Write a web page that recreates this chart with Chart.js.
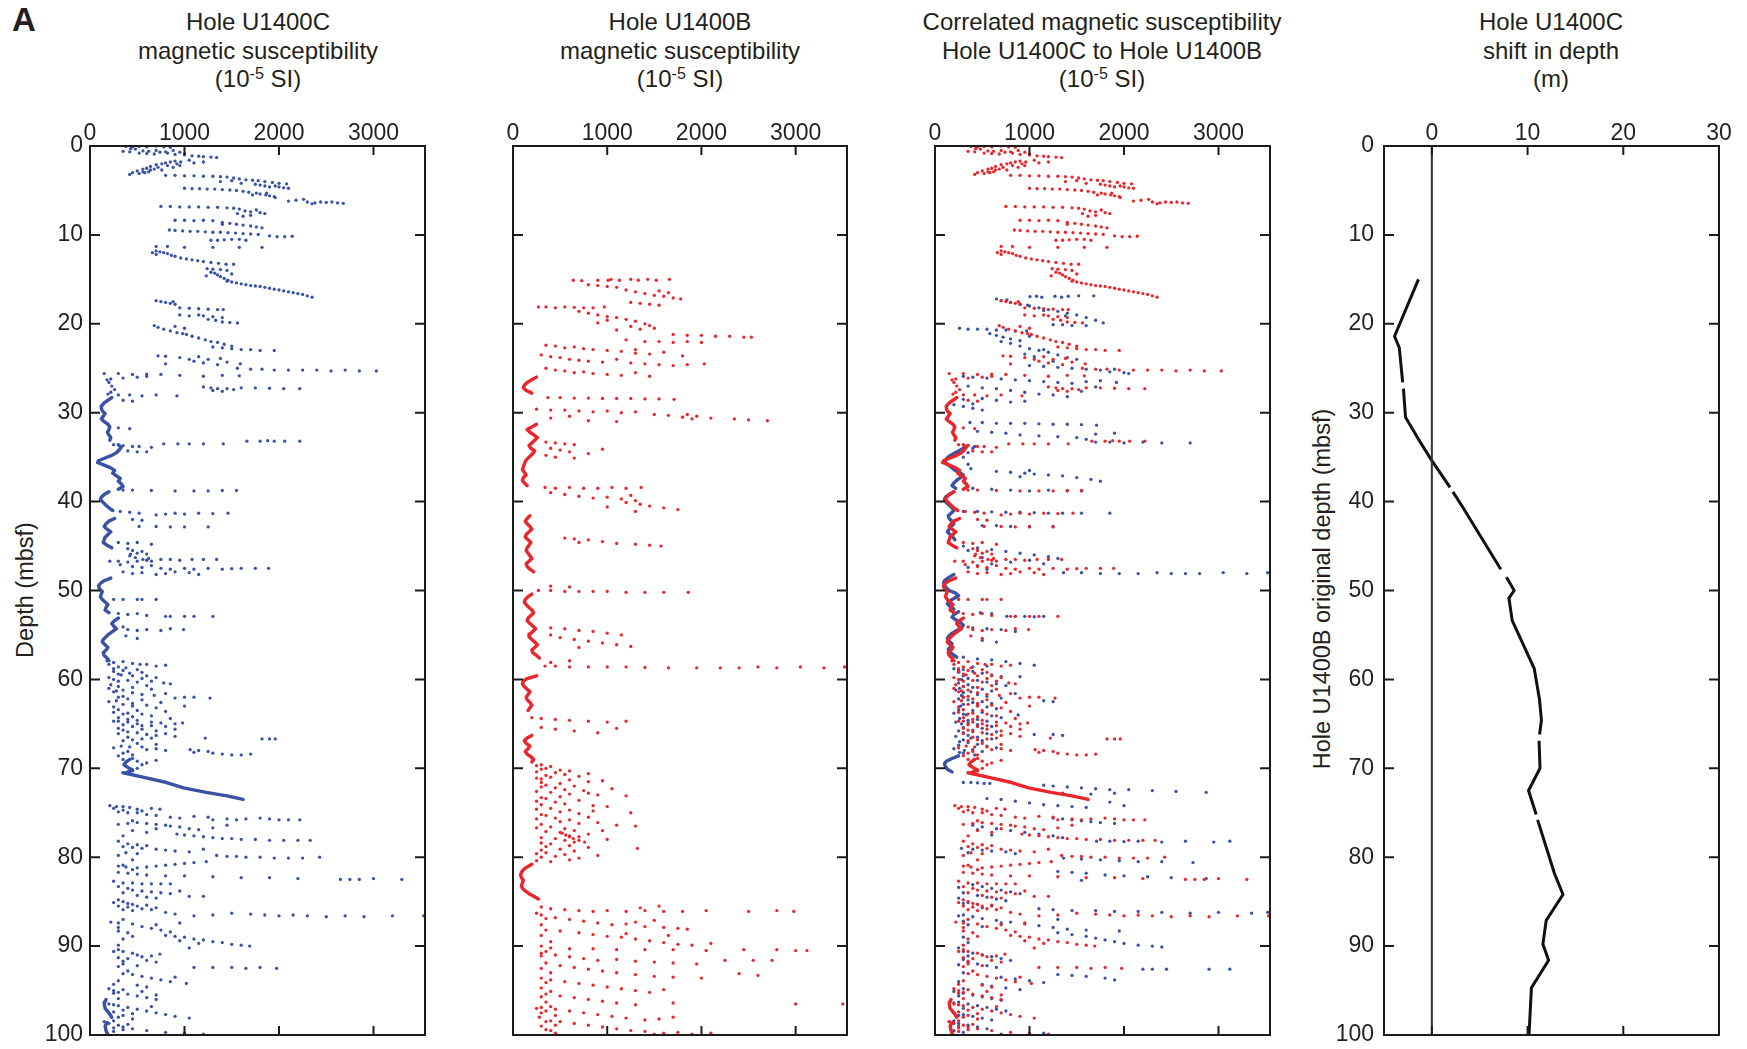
<!DOCTYPE html>
<html>
<head>
<meta charset="utf-8">
<script src="https://cdn.jsdelivr.net/npm/chart.js@4.4.1/dist/chart.umd.min.js"></script>
<style>
  body { margin: 0; background: #fff; width: 1747px; height: 1049px; position: relative; overflow: hidden;
         font-family: "Liberation Sans", Arial, sans-serif; color: #231f20; }
  canvas { position: absolute; }
  .title { position: absolute; width: 560px; text-align: center; font-size: 24px; line-height: 28.5px; top: 8px; }
  .title sup { font-size: 16px; vertical-align: 8px; line-height: 0; }
  .ylab { position: absolute; font-size: 23.5px; white-space: nowrap; transform: translate(-50%, -50%) rotate(-90deg); }
  #tagA { position: absolute; left: 12px; top: 1px; font-size: 33px; font-weight: bold; }
</style>
</head>
<body>
<div id="tagA">A</div>
<div class="title" style="left:-22px">Hole U1400C<br>magnetic susceptibility<br>(10<sup>-5</sup> SI)</div>
<div class="title" style="left:400px">Hole U1400B<br>magnetic susceptibility<br>(10<sup>-5</sup> SI)</div>
<div class="title" style="left:822px">Correlated magnetic susceptibility<br>Hole U1400C to Hole U1400B<br>(10<sup>-5</sup> SI)</div>
<div class="title" style="left:1271px">Hole U1400C<br>shift in depth<br>(m)</div>
<div class="ylab" style="left:25px; top:590px">Depth (mbsf)</div>
<div class="ylab" style="left:1322px; top:589px">Hole U1400B original depth (mbsf)</div>

<canvas id="p1"></canvas>
<canvas id="p2"></canvas>
<canvas id="p3"></canvas>
<canvas id="p4"></canvas>

<script>
// tick values
const depthTicks = [0, 10, 20, 30, 40, 50, 60, 70, 80, 90, 100];
const msTicks = [0, 1000, 2000, 3000];
const shiftTicks = [0, 10, 20, 30];

// Hole U1400C magnetic susceptibility, [depth mbsf, 10^-5 SI]
const holeC = [
  [0.05,380],[0.1,450],[0.05,520],[0.1,600],[0.0,700],[0.1,780],[0.15,850],[0.3,430],[0.35,480],[0.6,350],
  [0.65,420],[0.55,560],[0.6,620],[0.5,700],[0.7,740],[0.65,800],[0.5,880],[0.8,520],[0.85,600],[0.9,680],
  [0.8,820],[0.95,900],[0.7,950],[1.0,1000],[1.1,1080],[1.15,1150],[1.2,1200],[1.25,1280],[1.3,1340],[0.9,1000],
  [1.7,900],[1.8,850],[1.9,800],[1.8,960],[1.6,1050],[2.0,760],[2.1,700],[2.2,820],[2.3,640],[2.4,720],
  [2.5,600],[2.6,680],[2.6,560],[2.7,760],[2.8,500],[2.9,620],[3.0,450],[3.1,520],[3.2,420],[2.4,880],
  [2.2,950],[2.9,560],[2.7,640],[3.0,580],[2.0,920],[1.9,1100],[1.8,1200],
  [3.3,800],[3.3,900],[3.35,1000],[3.35,1100],[3.4,1200],[3.4,1300],[3.45,1380],[3.5,1450],[3.6,1520],[3.7,1580],
  [3.8,1650],[3.85,1720],[3.9,1780],[4.0,1850],[4.1,1930],[4.2,2000],[4.25,2080],[4.3,1750],[4.4,1800],[4.5,1850],
  [4.6,1900],[4.5,1960],[4.6,2000],[4.2,1600],[3.9,1500],[4.0,1380],
  [4.75,1000],[4.8,1080],[4.8,1160],[4.85,1240],[4.85,1320],[4.9,1400],[4.95,1480],[4.7,2050],[4.75,2100],[5.0,1550],
  [5.1,1620],[5.2,1680],[5.3,1760],[5.4,1800],[5.5,1860],[5.6,1900],[5.7,1950],[5.5,1720],[5.3,1870],[5.8,1960],
  [6.2,2100],[6.1,2180],[6.0,2260],[6.3,2300],[6.4,2380],[6.3,2440],[6.35,2500],[6.3,2560],[6.4,2620],[6.45,2680],[6.5,2350],
  [6.8,750],[6.8,850],[6.85,950],[6.85,1050],[6.85,1150],[6.9,1250],[6.9,1350],[6.95,1450],[7.0,1520],[7.1,1580],
  [7.3,1640],[7.4,1700],[7.2,1760],[7.5,1800],[7.6,1850],[7.8,1700],[7.9,1620],[7.6,1560],
  [8.35,900],[8.35,1000],[8.4,1100],[8.35,1200],[8.4,1300],[8.6,1400],[8.7,1480],[8.8,1550],[8.9,1620],[9.0,1700],
  [9.1,1760],[9.2,1820],[8.8,1400],
  [9.45,840],[9.5,900],[9.55,980],[9.6,1060],[9.6,1140],[9.65,1220],[9.7,1300],[9.7,1380],[9.75,1460],[9.8,1540],
  [9.85,1620],[9.9,1700],[9.95,1780],[10.1,1900],[10.2,1980],[10.2,2060],[10.15,2140],
  [10.6,1280],[10.6,1350],[10.55,1420],[10.5,1500],[10.5,1580],[10.6,1650],[11.3,700],[11.3,820],[11.4,1000],[11.4,1300],
  [11.4,1580],[11.4,1820],
  [11.8,700],[11.9,740],[12.0,780],[12.1,820],[12.3,860],[12.4,900],[12.6,960],[12.7,1020],[12.8,1080],[12.9,1140],
  [13.0,1200],[13.1,1280],[13.2,1360],[13.3,1440],[13.3,1520],[12.2,700],[12.0,660],
  [13.8,1240],[13.85,1300],[13.9,1380],[14.0,1450],[14.2,1280],[14.3,1320],[14.5,1350],[14.7,1380],[14.9,1420],[15.1,1460],
  [14.4,1500],[14.6,1230],
  [15.2,1450],[15.3,1500],[15.4,1550],[15.5,1600],[15.6,1650],[15.7,1700],[15.75,1750],[15.8,1800],[15.9,1850],[16.0,1900],
  [16.1,1950],[16.2,2000],[16.3,2050],[16.4,2100],[16.5,2150],[16.6,2200],[16.7,2250],[16.85,2300],[17.0,2350],
  [17.4,700],[17.5,750],[17.6,800],[17.7,850],[17.8,900],[17.5,880],[18.2,950],[18.25,1050],[18.3,1150],[18.35,1250],
  [18.4,1350],[18.4,1410],
  [19.0,950],[19.1,1050],[19.0,1150],[19.1,1200],[19.2,1300],[19.3,1400],[19.5,1250],[19.6,1330],[19.8,1400],[19.85,1480],[19.9,1560],
  [20.2,680],[20.4,720],[20.6,780],[20.8,850],[21.0,920],[21.1,980],[21.2,1020],[21.4,1080],[21.6,1150],[21.8,1220],
  [22.0,1280],[22.1,1350],[22.3,1420],[22.5,1500],[20.3,900],[20.5,1000],
  [22.6,1300],[22.7,1400],[22.8,1500],[22.9,1600],[22.9,1700],[23.0,1800],[23.0,1950],
  [23.6,720],[23.65,800],[23.8,950],[24.0,1050],[24.2,1100],[24.4,1200],[24.6,1350],[23.7,1150],[24.0,1250],[24.3,1450],
  [24.5,1590],[23.9,1380],[24.5,800],
  [25.0,1560],[25.1,1700],[25.1,1820],[25.2,1950],[25.2,2100],[25.2,2250],[25.2,2400],[25.3,2550],[25.2,2700],[25.3,2850],[25.3,3030],
  [25.6,150],[25.6,300],[25.7,450],[25.65,600],[25.7,750],[25.8,950],[26.2,220],[26.1,350],[26.0,500],[25.9,600],
  [26.3,180],[25.9,1200],[25.8,1400],[25.85,1580],[26.6,200],[27.0,230],[27.4,260],[27.7,220],
  [27.1,1200],[27.2,1280],[27.3,1350],[27.3,1450],[27.4,1520],[27.2,1600],[27.2,1750],[27.25,1900],[27.3,2050],[27.3,2220],
  [27.5,1300],[27.6,1400],
  [27.9,190],[28.0,300],[28.0,420],[28.1,550],[28.0,700],[28.1,920],[28.6,350],[28.7,450],[31.7,300],[31.8,420],
  [33.2,1660],[33.2,1800],[33.15,1880],[33.2,1950],[33.2,2060],[33.2,2220],[33.5,780],[33.5,930],[33.5,1050],[33.5,1200],[33.5,1410],
  [33.6,250],[33.7,350],[33.8,450],[33.8,520],[33.9,650],[34.2,300],[34.3,400],[34.4,500],[34.4,600],
  [38.7,350],[38.7,450],[38.75,650],[38.8,900],[38.8,1100],[38.8,1250],[38.75,1400],[38.75,1550],
  [41.1,320],[41.2,420],[41.3,520],[41.5,700],[41.4,800],[41.3,900],[41.4,1000],[41.3,1150],[41.35,1300],[41.3,1460],
  [42.0,450],[42.1,550],[42.8,520],[42.8,700],[42.85,850],[42.85,1000],[42.85,1250],
  [44.6,300],[44.7,400],[44.6,500],[44.8,650],
  [45.3,400],[45.5,450],[45.6,550],[45.8,500],[45.9,600],[46.1,420],[46.3,480],[46.5,560],[46.7,650],[46.4,620],[45.9,430],
  [46.7,210],[46.7,300],[46.8,400],[46.7,500],[46.6,600],[46.5,750],[46.5,850],[46.6,950],[46.5,1080],[46.5,1200],[46.5,1340],
  [47.1,320],[47.3,450],[47.4,550],[47.2,650],[47.5,750],[47.6,850],[47.5,1000],[47.6,1100],[47.5,1250],[47.6,1400],
  [47.55,1500],[47.5,1600],[47.5,1750],[47.5,1890],[47.9,350],[48.1,450],[48.0,550],[48.2,700],[48.1,800],[47.9,900],
  [48.0,1050],[48.2,1150],
  [51.0,250],[51.0,350],[51.0,500],[51.0,550],[51.0,700],
  [52.6,300],[52.7,400],[52.6,500],[52.8,600],[52.9,800],[52.9,850],[52.9,1000],[52.9,1100],[52.9,1300],
  [54.1,350],[54.4,400],[54.5,500],[54.4,600],[54.5,750],[54.3,850],[54.4,990],[55.1,380],[55.4,500],
  [57.9,180],[58.1,250],[58.0,350],[58.2,450],[58.3,530],[58.3,600],[58.5,700],[58.4,800],[58.6,300],[58.8,250],
  [59.0,350],[59.3,420],[59.5,330],[59.2,550],[59.6,600],[59.8,700],[60.0,250],[60.1,400],[60.3,500],[60.2,650],
  [60.4,780],[60.5,850],[59.6,450],
  [60.8,300],[61.0,200],[61.2,350],[61.4,250],[61.5,450],[61.7,550],[61.8,680],[61.6,800],[62.0,300],[62.2,400],
  [62.3,550],[62.1,900],[62.0,1000],[62.0,1100],[62.1,1270],[62.5,200],[62.8,350],[63.0,450],[62.9,600],[63.2,700],
  [63.0,1000],[63.4,300],[63.7,250],[63.8,400],[63.9,550],[64.1,650],[64.3,300],[64.5,400],[64.6,500],[64.8,650],
  [64.9,750],[65.1,350],[65.3,450],[65.5,300],[65.6,550],[65.8,700],[65.6,900],
  [58.3,200],[58.7,380],[59.1,250],[59.4,300],[59.8,200],[60.2,300],[60.6,220],[60.9,450],[61.3,280],[61.9,350],
  [62.4,280],[62.7,450],[63.1,250],[63.5,500],[63.9,350],[64.2,450],[64.7,250],[65.2,550],[65.7,350],[66.1,300],
  [66.5,400],[66.9,350],[67.2,500],[67.7,250],[68.1,400],[68.6,300],[68.9,450],[59.9,550],[61.1,650],[62.6,750],
  [63.6,800],[64.4,850],[60.7,600],[58.9,500],[67.3,700],
  [64.7,300],[64.8,400],[65.0,500],[65.2,650],[65.3,800],[65.0,900],[64.9,980],
  [65.9,400],[66.0,500],[66.2,600],[66.3,700],[66.1,800],[66.4,900],[66.7,550],[66.6,650],[66.8,450],[66.6,1220],
  [66.7,1820],[66.7,1900],[66.7,1960],
  [67.5,330],[67.6,420],[67.6,550],[67.8,700],[68.0,800],[67.9,600],[68.3,350],[68.5,450],[67.9,1060],[68.0,1150],
  [68.1,1250],[68.3,1300],[68.2,1100],[68.4,1400],[68.5,1500],[68.5,1600],[68.4,1700],
  [69.0,350],[69.2,500],[69.4,600],[69.6,550],[70.0,500],[70.3,450],[69.1,700],
  [74.2,210],[74.3,280],[74.3,350],[74.4,420],[74.6,500],[74.8,550],[74.5,650],[74.6,740],[74.9,300],[75.0,400],
  [75.2,600],[75.3,700],[75.5,850],[75.6,950],[75.4,1100],[75.5,1250],[75.8,1300],[75.7,1450],[75.8,1550],[75.7,1650],
  [75.6,1800],[75.7,1900],[75.8,2000],[75.8,2100],[75.8,2220],
  [76.1,500],[76.2,600],[76.3,700],[76.4,800],[76.5,850],[76.6,950],[76.8,1050],[76.9,1150],[76.7,1300],[76.4,1450],
  [76.2,400],[76.8,700],
  [77.4,920],[77.5,1000],[77.6,1100],[77.7,1200],[77.8,1300],[77.9,1400],[77.9,1500],[78.0,1600],[78.0,1750],[78.1,1900],
  [78.1,2050],[78.1,2200],[78.1,2330],
  [78.5,400],[78.6,500],[78.7,600],[78.9,450],[79.0,550],[79.1,700],[79.2,800],[79.3,900],[79.4,1050],[79.1,1200],
  [79.5,380],[79.6,500],
  [79.8,1340],[79.9,1450],[79.9,1550],[80.0,1650],[80.0,1800],[80.1,1950],[80.1,2100],[80.1,2250],[80.0,2430],
  [80.5,1230],[80.6,1100],[80.7,1000],[80.8,900],[80.9,800],[81.0,700],[81.1,600],[81.2,500],[81.1,380],[81.0,300],
  [81.7,300],[81.8,400],[81.9,500],[82.0,600],[82.1,800],[82.1,1000],[82.2,1300],[82.3,1600],[82.3,1900],[82.4,2200],
  [82.5,2650],[82.5,2750],[82.5,2850],[82.4,3000],[82.5,3300],
  [82.9,350],[82.9,450],[83.0,550],[83.0,650],[83.0,750],[83.0,850],
  [83.7,450],[83.8,550],[83.9,650],[84.0,750],[84.1,850],[83.8,950],[84.3,500],[84.5,600],[84.6,700],[84.4,1050],[84.4,1200],
  [85.0,350],[85.2,400],[85.3,450],[85.5,500],[85.6,400],[85.8,550],[85.9,650],[85.4,600],[85.7,700],
  [86.2,800],[86.4,900],[86.6,1100],[86.5,1300],[86.3,1500],[86.4,1700],[86.5,1850],[86.6,2000],[86.5,2150],[86.6,2300],
  [86.7,2500],[86.6,2700],[86.7,2900],[86.6,3200],[86.6,3530],
  [87.3,220],[87.4,300],[87.5,450],[87.8,550],[88.0,650],[88.2,750],[88.4,850],[87.6,700],[87.4,950],[88.5,400],
  [88.8,800],[88.9,900],[89.0,1000],[89.2,1100],[89.3,1200],[89.5,1300],[89.6,1400],[89.8,1500],[89.9,1600],[90.0,1690],
  [89.4,950],[89.7,1150],[90.2,1050],
  [90.4,300],[90.6,350],[90.8,450],[91.0,500],[91.2,550],[91.4,400],[91.6,600],[91.8,700],[92.0,350],[92.2,500],
  [91.1,650],[90.9,740],[92.4,1300],[92.4,1500],[92.5,1650],[92.4,1800],[92.5,1975],[92.4,1100],
  [93.2,450],[93.4,550],[93.6,650],[93.8,750],[94.0,850],[94.2,1020],[94.4,500],[94.6,600],[93.5,900],
  [94.8,200],[95.0,250],[95.2,300],[95.4,400],[95.6,500],[95.8,600],[96.0,700],[95.1,550],[95.5,700],
  [96.3,150],[96.5,200],[96.7,300],[96.9,400],[97.1,500],[97.3,600],[97.5,700],[97.7,800],[97.9,900],[98.1,1050],
  [96.8,650],[97.4,250],[97.8,350],[98.2,450],
  [98.5,150],[98.7,200],[98.9,300],[99.1,350],[99.3,450],[99.5,600],[99.7,800],[99.8,1000],[99.9,1200],[99.6,250],[99.9,180],
  [74.5,250],[74.7,350],[75.0,500],[75.9,450],[76.3,300],[77.0,450],[77.2,600],[77.6,350],[78.2,300],[78.8,350],
  [79.8,300],[80.3,450],[80.9,350],[81.4,450],[82.7,250],[83.3,300],[83.5,400],[84.0,350],[84.8,300],[85.1,250],
  [85.5,300],[85.9,350],[86.0,450],[87.0,350],[87.9,300],[88.3,300],[88.9,450],[89.2,350],[89.9,300],[90.6,250],
  [91.3,300],[91.7,350],[92.3,300],[92.8,400],[93.1,350],[93.9,300],[94.3,250],[94.9,350],[95.3,250],[95.9,300],
  [96.6,250],[97.2,350],[97.6,450],[98.0,300],[98.4,250],[98.8,400],[99.2,250],[99.4,350]
];

// dense low-value runs of Hole U1400C (drawn as a connected trace, null = core break)
const holeCTrace = [
  [28.3,230],[28.6,190],[28.9,150],[29.2,125],[29.5,120],[29.8,130],[30.1,160],[30.4,140],[30.7,120],[31.0,150],
  [31.3,190],[31.6,210],[31.9,200],[32.2,185],[32.5,200],[32.8,220],[33.1,210], null,
  [33.6,300],[33.9,330],[34.2,310],[34.5,280],[34.8,230],[35.1,160],[35.4,90],[35.6,80],[35.9,150],[36.2,220],
  [36.5,260],[36.8,240],[37.1,280],[37.4,320],[37.7,300],[38.0,330],[38.3,350],[38.6,300], null,
  [38.9,200],[39.2,150],[39.5,120],[39.8,110],[40.1,140],[40.4,170],[40.7,200],[41.0,240], null,
  [41.9,260],[42.2,200],[42.5,170],[42.8,150],[43.1,180],[43.4,220],[43.7,190],[44.0,160],[44.3,150],[44.6,140],
  [44.9,180],[45.2,230], null,
  [48.6,220],[48.9,150],[49.2,110],[49.5,90],[49.8,100],[50.1,130],[50.4,120],[50.7,110],[51.0,130],[51.3,160],
  [51.6,190],[51.9,170],[52.2,160],[52.5,200], null,
  [53.1,300],[53.4,260],[53.7,230],[54.0,250],[54.3,280],[54.6,240],[54.9,200],[55.2,170],[55.5,140],[55.8,130],
  [56.1,160],[56.4,190],[56.7,170],[57.0,140],[57.3,150],[57.6,180],[57.9,200], null,
  [69.0,420],[69.3,380],[69.6,360],[69.9,400],[70.2,450],[70.5,380], null,
  [70.5,350],[71.0,560],[71.6,810],[72.2,990],[72.7,1230],[73.1,1450],[73.5,1620], null,
  [96.0,170],[96.5,150],[97.0,160],[97.5,200],[98.0,230], null,
  [98.6,180],[99.0,160],[99.5,170],[100,190]
];

// Hole U1400B magnetic susceptibility, [depth mbsf, 10^-5 SI]
const holeB = [
  [15.1,640],[15.15,730],[15.1,900],[15.1,1010],[15.0,1040],[15.1,1130],[15.0,1250],[15.1,1330],[15.0,1430],[15.1,1520],[15.0,1660],
  [15.6,800],[15.7,900],[15.8,1000],[15.9,1100],[16.2,1200],[16.4,1300],[16.6,1400],[16.8,1500],[16.9,1600],[17.1,1700],
  [17.2,1780],[16.5,1650],[16.3,1550],[17.6,1250],[17.7,1350],[17.8,1450],[17.9,1550],
  [18.1,270],[18.1,350],[18.2,450],[18.1,550],[18.15,650],[18.2,750],[18.2,850],[18.1,970],
  [18.6,700],[18.8,800],[19.0,900],[19.2,1000],[19.3,1100],[19.5,1200],[19.7,1300],[20.0,1400],[20.2,1450],[20.5,1500],
  [19.6,1000],[20.3,1250],[20.7,1100],[19.9,900],[20.6,1350],
  [21.2,1700],[21.3,1850],[21.3,2000],[21.4,2150],[21.4,2300],[21.5,2450],[21.5,2530],[22.0,1400],[22.0,1550],[22.1,1700],
  [22.0,1850],[22.1,2000],[21.8,1200],
  [22.4,350],[22.5,450],[22.7,550],[22.6,650],[22.8,750],[22.9,850],[23.0,1000],[23.1,1150],[23.3,1300],[23.4,1450],
  [23.2,1600],[23.5,300],[23.7,400],[23.8,500],[24.0,600],[24.1,700],[24.2,800],[24.3,950],[24.0,1100],[24.4,1250],
  [24.5,1400],[24.6,1550],[24.7,1700],[24.6,1850],[24.5,2030],[25.0,350],[25.2,450],[25.3,550],[25.5,650],[25.4,750],
  [25.6,850],[25.7,1000],[25.8,1150],[25.5,1300],[25.9,1450],[23.6,1800],[22.9,1300],
  [28.3,370],[28.3,500],[28.35,650],[28.35,800],[28.4,950],[28.4,1100],[28.4,1250],[28.45,1400],[28.45,1550],[28.5,1710],
  [29.6,250],[29.7,400],[29.7,550],[29.8,700],[29.9,850],[29.8,1000],[30.0,1150],[29.9,1300],[30.2,1500],[30.3,1650],
  [30.5,1800],[30.4,1950],[30.6,2100],[30.7,2350],[30.8,2500],[30.9,2700],[30.4,600],[30.6,400],[30.9,800],[31.0,1100],
  [30.7,1900],[30.2,1850],
  [33.3,350],[33.4,450],[33.5,550],[33.6,650],[34.0,400],[34.2,500],[34.4,600],[34.6,800],[34.8,350],[35.0,450],
  [35.1,650],[34.1,950],
  [38.4,340],[38.5,450],[38.4,600],[38.5,750],[38.5,900],[38.4,1050],[38.5,1200],[38.4,1360],
  [39.0,400],[39.2,550],[39.4,700],[39.6,850],[39.5,1000],[39.7,1150],[39.9,1300],[40.1,1200],[40.3,1350],[40.5,1450],
  [40.7,1600],[40.9,1750],[41.1,1300],[40.6,1000],[39.3,1250],
  [44.1,550],[44.2,650],[44.3,800],[44.5,950],[44.7,1100],[44.8,1300],[44.9,1450],[45.0,1570],[44.6,700],
  [50.0,270],[50.0,400],[50.1,550],[50.1,700],[50.1,850],[50.1,1000],[50.2,1200],[50.2,1400],[50.2,1600],[50.2,1860],
  [49.5,400],[49.6,600],
  [54.2,400],[54.3,550],[54.5,700],[54.6,850],[54.8,1000],[55.0,1150],[55.3,500],[55.5,650],[55.7,800],[55.9,950],
  [56.1,1100],[56.3,1250],[56.4,700],[55.0,400],
  [58.5,340],[58.5,450],[58.6,600],[58.6,800],[58.6,1000],[58.6,1200],[58.65,1400],[58.7,1650],[58.7,1950],[58.7,2200],
  [58.7,2400],[58.6,2600],[58.7,2800],[58.6,3050],[58.7,3300],[58.6,3520],[58.1,400],[57.9,600],
  [64.3,200],[64.4,300],[64.5,450],[64.6,600],[64.7,800],[64.8,1000],[64.7,1200],[65.4,300],[65.6,450],[65.8,650],
  [66.0,900],[65.5,1100],
  [69.6,300],[69.8,400],[70.0,350],[70.2,500],[70.3,600],[70.5,450],[70.7,550],[70.9,700],[71.0,400],[71.2,300],
  [71.3,600],[71.5,800],[71.7,500],[71.9,350],[72.0,650],[72.2,450],[72.4,550],[72.5,750],[72.7,400],[72.9,600],
  [73.0,900],[73.2,500],[73.4,350],[73.6,700],[73.8,450],[74.0,550],[74.2,850],[74.3,1000],[74.5,400],[74.7,600],
  [74.9,500],[75.1,700],[75.3,350],[75.5,800],[75.6,450],[75.8,600],[76.0,500],[76.2,700],[76.4,1100],[76.5,1300],
  [76.6,400],[76.8,550],[77.0,650],[77.2,500],[77.4,800],[77.6,600],[77.7,700],[77.9,450],[78.1,550],[78.3,650],
  [78.5,400],[78.7,600],[78.9,800],[79.1,500],[79.3,650],[79.5,350],[79.7,550],[79.9,450],[80.1,700],[80.3,600],
  [80.5,400],[73.1,1200],[75.0,1250],[77.0,950],[79.0,1320],[72.3,1050],[71.4,950],
  [77.3,520],[77.5,560],[77.7,600],[77.9,640],[78.1,700],[78.3,760],
  [69.7,250],[70.1,300],[70.4,250],[70.8,350],[71.1,250],[71.6,300],[72.1,300],[72.6,250],[73.3,300],[73.7,250],
  [74.1,300],[74.6,250],[75.2,300],[75.7,250],[76.3,300],[76.7,250],[77.1,350],[77.8,300],[78.4,300],[78.8,350],
  [79.2,300],[79.6,250],[80.0,300],[80.4,250],[70.6,800],[72.8,800],[74.8,850],[76.1,900],[78.0,1000],[79.8,900],
  [85.6,300],[85.8,400],[85.9,550],[86.0,700],[86.1,850],[86.0,1000],[86.1,1200],[86.0,1400],[86.1,1600],[86.1,1800],
  [86.0,2050],[86.1,2500],[86.0,2800],[86.1,2980],[85.5,1550],[85.7,1350],
  [86.5,300],[86.8,450],[87.0,600],[87.2,750],[87.4,900],[87.6,1050],[87.5,1200],[87.8,1400],[87.9,1600],[88.0,1750],
  [88.1,1850],[87.3,1300],[87.1,1500],[88.3,500],[88.5,700],[88.7,850],[88.9,1000],[89.0,1150],[89.2,1300],[89.4,1450],
  [89.6,1600],[89.8,1750],[89.9,1900],[89.7,2100],[88.6,1200],[88.8,1650],
  [90.2,400],[90.3,600],[90.3,850],[90.4,1100],[90.4,1400],[90.4,1700],[90.5,2050],[90.4,2450],[90.4,2800],[90.5,3000],[90.5,3120],
  [90.8,300],[91.0,450],[91.2,600],[91.4,750],[91.6,900],[91.5,1100],[91.7,1300],[91.8,1500],[91.9,1700],[92.0,1950],
  [91.6,2250],[91.6,2550],[91.6,2750],[92.2,500],[92.4,650],[92.6,800],[92.8,950],[93.0,1100],[93.2,1300],[93.4,1500],
  [93.5,1700],[93.6,2000],[93.1,2400],[93.3,2600],[93.8,400],[94.0,550],[94.2,700],[94.4,850],[94.6,1000],[94.8,1150],
  [95.0,1300],[95.2,1450],[94.9,1600],[95.4,350],[95.6,500],[95.8,650],[96.0,800],[96.2,950],[96.4,1100],[96.6,1300],
  [96.4,1700],[96.5,3000],[96.5,3500],[96.9,300],[97.1,450],[97.3,600],[97.5,750],[97.7,900],[97.9,1050],[98.1,1200],
  [98.3,1400],[98.0,1700],[98.2,1550],[98.5,500],[98.7,650],[98.9,800],[99.1,950],[99.3,1100],[99.5,1250],[99.6,1400],
  [99.8,1600],[99.9,1900],[99.8,2100],[99.7,1750],[99.9,1500],
  [97.0,250],[97.5,300],[98.0,280],[98.5,350],[99.0,300],[99.5,400],
  [86.3,250],[86.9,350],[87.6,300],[88.2,350],[88.8,300],[89.5,400],[90.0,300],[90.6,350],[91.1,300],[91.9,350],
  [92.5,300],[93.0,400],[93.6,300],[94.1,350],[94.7,300],[95.1,400],[95.7,300],[96.3,350],[96.8,400],[97.3,350],
  [97.8,450],[98.4,400],[98.9,450],[99.4,350],[99.8,450]
];

const holeBTrace = [
  [26.0,250],[26.3,200],[26.6,150],[26.9,120],[27.2,110],[27.5,140],[27.8,200], null,
  [31.3,250],[31.6,200],[31.9,150],[32.2,180],[32.5,220],[32.8,260],[33.1,230],[33.4,200],[33.7,170],[34.0,190],
  [34.3,230],[34.6,210],[34.9,180],[35.2,150],[35.5,130],[35.8,120],[36.1,110],[36.4,100],[36.7,120],[37.0,140],
  [37.3,110],[37.6,100],[37.9,120],[38.2,150], null,
  [41.6,180],[41.9,150],[42.2,130],[42.5,150],[42.8,180],[43.1,200],[43.4,170],[43.7,140],[44.0,130],[44.3,160],
  [44.6,190],[44.9,170],[45.2,150],[45.5,140],[45.8,160],[46.1,180],[46.4,200],[46.7,170],[47.0,140],[47.3,150],
  [47.6,180],[47.9,220], null,
  [50.4,200],[50.7,160],[51.0,130],[51.3,120],[51.6,140],[51.9,170],[52.2,200],[52.5,220],[52.8,190],[53.1,160],
  [53.4,150],[53.7,180],[54.0,210],[54.3,240],[54.6,210],[54.9,180],[55.2,170],[55.5,200],[55.8,230],[56.1,260],
  [56.4,230],[56.7,200],[57.0,210],[57.3,250],[57.6,280], null,
  [59.6,250],[59.9,150],[60.2,110],[60.5,100],[60.8,120],[61.1,150],[61.4,180],[61.7,160],[62.0,140],[62.3,150],
  [62.6,180],[62.9,200],[63.2,180],[63.5,160], null,
  [66.3,200],[66.6,150],[66.9,120],[67.2,140],[67.5,180],[67.8,160],[68.1,130],[68.4,150],[68.7,190],[69.0,220],[69.3,200], null,
  [80.8,200],[81.1,150],[81.4,110],[81.7,90],[82.0,80],[82.3,90],[82.6,110],[82.9,100],[83.2,90],[83.5,100],
  [83.8,130],[84.1,170],[84.4,220],[84.7,270]
];

// Hole U1400B data as placed on the correlated depth scale (blue in third panel)
const holeBCorr = [
  [16.95,1005],[16.9,1075],[17.0,1130],[16.9,1270],[17.0,1340],[16.9,1410],[16.85,1520],[16.85,1680],
  [17.2,650],[17.4,700],[17.6,800],[17.8,900],[18.0,1000],[18.2,1100],[18.4,1200],[18.6,1300],[18.8,1400],[19.0,1500],
  [19.3,1600],[19.6,1700],[19.9,1780],[17.3,760],[17.9,980],[18.5,1150],[19.1,1380],
  [20.1,1250],[20.1,1350],[20.2,1450],[20.2,1600],
  [20.5,260],[20.6,350],[20.6,450],[20.6,550],[20.7,650],[20.7,750],[20.8,850],[20.8,970],
  [21.1,580],[21.3,650],[21.5,720],[21.7,800],[21.9,900],[21.4,1000],
  [22.0,700],[22.2,800],[22.5,900],[22.8,1000],[23.0,1100],[23.2,1200],[23.5,1300],[23.8,1400],[24.0,1500],[24.2,1250],
  [23.4,950],[22.9,1150],[23.7,1050],
  [24.7,1000],[24.8,1150],[24.9,1300],[25.0,1450],[25.1,1600],[25.2,1750],[25.4,1850],[25.5,2000],[25.6,2050],[25.1,1900],
  [25.9,300],[26.0,400],[26.1,550],[26.2,700],[26.3,850],[26.4,1000],[26.5,1150],[26.6,1300],[26.7,1450],[26.5,1600],
  [26.4,1750],[26.6,1920],[27.0,350],[27.2,500],[27.3,650],[27.5,800],[27.7,950],[27.9,1100],[28.0,1250],[28.2,1400],
  [28.4,500],[28.6,650],[28.8,800],[28.7,950],[28.5,300],[29.0,400],[27.6,1550],[27.1,1700],
  [29.1,200],[29.3,300],[29.5,400],[29.7,500],
  [31.1,370],[31.1,500],[31.2,650],[31.2,800],[31.2,950],[31.25,1100],[31.3,1250],[31.3,1400],[31.35,1550],[31.4,1710],
  [32.1,450],[32.2,600],[32.3,750],[32.5,900],[32.6,1100],[32.7,1300],[32.8,1500],[33.0,1600],[33.3,1700],[33.3,1850],
  [33.4,2000],[33.3,2200],[33.4,2400],[33.4,2700],[32.4,1700],[32.3,1900],
  [34.0,400],[34.5,350],[35.0,300],[35.8,350],[36.3,380],[33.8,420],
  [36.6,650],[36.7,800],[36.8,950],[36.9,1050],[37.0,1200],[37.1,1350],[37.3,1500],[37.5,1650],[37.7,1750],[36.5,1000],[37.2,900],
  [38.5,400],[38.6,600],[38.7,800],[38.8,1000],[38.7,1200],[38.8,1400],[38.8,1550],
  [41.1,300],[41.1,450],[41.15,600],[41.2,750],[41.2,900],[41.25,1050],[41.3,1200],[41.3,1350],[41.3,1550],[41.3,1850],
  [42.7,500],[42.7,650],[42.8,800],[42.8,1000],[42.8,1250],
  [45.0,300],[45.2,450],[45.4,600],[45.6,750],[45.8,900],[46.0,1050],[46.2,1200],[46.4,1300],[46.6,1000],[46.8,800],
  [47.0,600],[47.2,450],[47.4,350],[47.6,550],[46.3,500],[45.5,350],[47.0,1150],
  [48.0,1360],[48.0,1550],[48.1,1750],[48.1,1950],[48.1,2150],[48.0,2350],[48.1,2500],[48.1,2650],[48.1,2800],[48.0,3050],
  [48.1,3300],[48.0,3520],
  [52.9,760],[52.9,850],[52.9,950],[52.95,1050],[52.9,1150],[52.5,480],[52.6,600],
  [54.2,400],[54.3,550],[54.4,700],[54.6,850],[55.6,500],[55.8,650],
  [57.5,300],[57.7,450],[57.8,600],[58.0,750],[58.2,900],[58.4,1050],[58.6,400],[58.5,550],
  [58.9,300],[59.1,400],[59.3,500],[59.5,600],[59.7,700],[59.9,350],[60.1,450],[60.3,550],[60.5,650],[60.7,750],
  [60.9,400],[61.1,500],[61.3,600],[61.5,300],[61.7,450],[61.9,550],[62.1,700],[62.3,350],[62.5,500],[62.7,600],
  [62.9,450],[63.1,550],[63.3,650],[63.5,400],[63.7,500],[63.9,300],[64.1,600],[64.3,700],[64.5,450],[64.7,550],
  [64.9,350],[65.1,450],[65.3,600],[65.5,500],[65.7,400],[65.9,650],[66.1,550],[66.3,350],[66.5,450],[66.7,600],
  [66.9,500],[67.1,350],[67.3,450],[67.5,550],[67.7,650],[67.9,400],[68.1,500],[68.3,300],[68.5,420],[62.4,1150],
  [62.5,1250],[66.2,1050],[66.3,1350],[66.2,1250],[59.7,900],[61.6,850],[64.0,880],
  [59.0,250],[60.0,280],[61.0,260],[62.0,300],[63.0,270],[64.0,330],[65.0,280],[66.0,300],[67.0,260],[68.0,310],
  [58.8,200],[59.2,250],[59.6,300],[60.4,250],[60.8,300],[61.2,220],[61.8,280],[62.2,250],[62.8,300],[63.4,250],
  [63.8,200],[64.4,260],[64.8,220],[65.4,300],[65.8,250],[66.4,220],[66.8,300],[67.4,250],[67.8,200],[68.2,260],
  [60.6,350],[62.6,400],[64.6,350],[66.6,380],[61.4,380],
  [71.6,300],[71.6,380],[71.65,450],[71.7,520],[71.7,580],
  [71.9,1150],[72.0,1250],[72.1,1400],[72.2,1550],[72.3,1700],[72.4,1850],[72.4,2050],[72.5,2300],[72.6,2550],[72.7,2870],
  [72.8,1350],[72.9,1650],[72.8,1900],
  [73.4,550],[73.5,700],[73.7,850],[73.9,1000],[74.1,1150],[74.2,1300],[74.3,1450],[74.4,1600],[73.8,1850],[74.2,2000],
  [75.6,1250],[75.7,1350],[75.8,1450],[75.9,1550],[76.0,1650],[76.1,1750],[76.2,1900],
  [76.4,400],[76.6,500],[76.8,650],[77.0,800],[77.2,950],[77.4,1100],[77.6,1250],[77.8,1350],[76.9,450],[77.5,600],
  [78.2,1710],[78.2,1850],[78.25,2000],[78.2,2150],[78.3,2400],[78.2,2650],[78.3,2950],[78.2,3120],
  [79.0,280],[79.1,400],[79.2,500],[79.3,600],[79.4,750],[79.6,850],[79.5,350],
  [80.1,1360],[80.2,1550],[80.3,1750],[80.4,1950],[80.5,2150],[80.5,2400],[80.6,2730],
  [81.6,1300],[81.7,1450],[81.8,1600],[82.0,1800],[82.1,2000],[82.2,2250],[82.3,2500],[82.4,2870],[82.6,1550],
  [83.1,400],[83.3,500],[83.5,600],[83.7,700],[83.9,800],[84.1,900],[84.3,450],[84.5,550],[84.7,650],[84.9,750],
  [85.1,350],[85.3,450],[85.5,600],[85.7,500],
  [85.8,1100],[85.9,1250],[86.0,1450],[86.0,1700],[86.1,1900],[86.1,2150],[86.2,2400],[86.3,2700],[86.2,3000],[86.3,3350],[86.2,3520],
  [86.5,300],[86.7,400],[86.9,500],[87.1,650],[87.3,800],[87.5,950],[87.7,1100],[87.9,1250],[88.1,1400],[88.2,1600],
  [88.3,1950],[87.0,1300],[87.4,700],[87.8,500],
  [88.5,1300],[88.7,1450],[88.9,1600],[89.1,1700],[89.3,1800],[89.5,1900],[89.7,2000],[89.9,2150],[90.0,2300],[90.1,2400],
  [90.6,300],[90.8,400],[91.0,500],[91.2,600],[91.4,700],[91.6,800],[91.8,350],[92.0,450],[92.2,550],[92.4,650],
  [92.6,2200],[92.6,2300],[92.6,2450],[92.6,2900],[92.6,3120],
  [93.2,1300],[93.3,1450],[93.4,1600],[93.6,1800],[93.8,1900],[93.5,700],[93.7,850],[93.9,1000],[94.1,1150],[94.3,500],
  [94.5,600],[94.7,750],[94.9,900],
  [95.1,200],[95.3,300],[95.5,400],[95.7,500],[95.9,600],[96.1,700],[96.3,250],[96.5,350],[96.7,450],[96.9,550],
  [97.1,650],[97.3,750],[97.5,200],[97.7,300],[97.9,400],[98.1,500],[98.3,600],[98.5,150],[98.7,250],[98.9,350],
  [99.1,450],[99.3,550],[99.5,200],[99.7,300],[99.9,700],[99.9,1000],[99.8,1150],
  [83.4,250],[84.0,300],[84.6,250],[85.2,300],[86.6,250],[87.2,300],[87.6,350],[89.0,300],[89.6,350],[90.2,250],
  [91.1,350],[91.5,300],[92.1,250],[93.0,300],[94.0,250],[94.8,300],[95.6,250],[96.4,200],[97.0,300],[97.8,250],
  [98.4,200],[99.0,250],[99.6,180]
];

const holeBCorrTrace = [
  [33.7,350],[34.0,300],[34.3,250],[34.6,200],[34.9,150],[35.2,120],[35.5,100],[35.8,130],[36.1,170],[36.4,200],
  [36.7,250],[37.0,300],[37.3,270],[37.6,230],[37.9,200],[38.2,180],[38.5,220], null,
  [38.9,200],[39.2,150],[39.5,110],[39.8,100],[40.1,120],[40.4,150],[40.7,180],[41.0,200],[41.3,170],[41.6,140],
  [41.9,150],[42.2,180],[42.5,200],[42.8,170],[43.1,150],[43.4,130],[43.7,160],[44.0,190],[44.3,210], null,
  [48.2,200],[48.5,150],[48.8,110],[49.1,90],[49.4,100],[49.7,120],[50.0,150],[50.3,220],[50.6,250],[50.9,200],
  [51.2,150],[51.5,130],[51.8,160],[52.1,200], null,
  [52.4,250],[52.7,200],[53.0,180],[53.3,220],[53.6,270],[53.9,300],[54.2,280],[54.5,230],[54.8,180],[55.1,150],
  [55.4,130],[55.7,150],[56.0,180],[56.3,170],[56.6,140],[56.9,150],[57.2,190],[57.5,230], null,
  [68.6,250],[68.9,180],[69.2,120],[69.5,100],[69.8,110],[70.1,130],[70.4,180]
];

// Hole U1400C shift in depth vs Hole U1400B original depth (null = gap in the curve)
const shiftDepth = [15.0, 21.4, 22.7, 26.6, null, 27.3, 30.5, 32.8, 35.4, 38.4, null, 38.9, 40.5, 47.6, null, 48.5,
  50.0, 50.85, 53.4, 58.8, 62.3, 64.6, 66.2, null, 66.9, 70.0, 72.5, 75.2, null, 75.8, 81.8, 84.2, 87.1, 89.8, 91.6, 94.7, 100];
const shiftMeters = [-1.4, -3.9, -3.4, -3.05, null, -2.97, -2.75, -1.5, 0, 1.9, null, 2.2, 3.15, 7.2, null, 7.8,
  8.6, 8.05, 8.4, 10.7, 11.25, 11.45, 11.25, null, 11.2, 11.3, 10.1, 10.9, null, 11.05, 12.8, 13.7, 11.95, 11.6, 12.2, 10.4, 10.15];
const zeroShift = [0, 0];
const zeroShiftDepth = [0, 100];

const BLUE = '#3a52a3';
const RED = '#e9262c';
const FONT = '"Liberation Sans", Arial, sans-serif';

function toXY(pts) {
  return pts.map(p => p ? {x: p[1], y: p[0]} : {x: null, y: null});
}

function dots(pts, color) {
  return {data: toXY(pts), showLine: false, pointRadius: 1.65, pointBorderWidth: 0,
          pointBackgroundColor: color, borderColor: color};
}

function trace(pts, color) {
  return {data: toXY(pts), showLine: true, borderWidth: 3.4, borderColor: color,
          pointRadius: 0, spanGaps: false, borderJoinStyle: 'round', borderCapStyle: 'round'};
}

// frame round the plot and inward tick marks on all four sides
const frameTicks = {
  id: 'frameTicks',
  afterDatasetsDraw(chart) {
    const {ctx, chartArea: a, scales} = chart;
    ctx.save();
    ctx.strokeStyle = '#1b1b1b';
    ctx.lineWidth = 2;
    ctx.strokeRect(a.left, a.top, a.right - a.left, a.bottom - a.top);
    ctx.beginPath();
    scales.x.ticks.forEach(t => {
      const px = scales.x.getPixelForValue(t.value);
      if (px > a.left + 2 && px < a.right - 2) {
        ctx.moveTo(px, a.top); ctx.lineTo(px, a.top + 9);
        ctx.moveTo(px, a.bottom); ctx.lineTo(px, a.bottom - 9);
      }
    });
    scales.y.ticks.forEach(t => {
      const py = scales.y.getPixelForValue(t.value);
      if (py > a.top + 2 && py < a.bottom - 2) {
        ctx.moveTo(a.left, py); ctx.lineTo(a.left + 10, py);
        ctx.moveTo(a.right, py); ctx.lineTo(a.right - 10, py);
      }
    });
    ctx.stroke();
    ctx.restore();
  }
};

function makePanel(id, plotLeft, plotWidth, datasets, xMin, xMax, xTicks, yLabelPad) {
  const canvas = document.getElementById(id);
  const w = 90 + plotWidth + 20;
  canvas.width = w; canvas.height = 948;
  canvas.style.left = (plotLeft - 90) + 'px';
  canvas.style.top = '101px';
  canvas.style.width = w + 'px';
  canvas.style.height = '948px';
  return new Chart(canvas, {
    type: 'scatter',
    data: {datasets: datasets},
    options: {
      responsive: false,
      animation: false,
      events: [],
      layout: {padding: {top: 0, left: 0, right: 20, bottom: 14}},
      plugins: {legend: {display: false}, tooltip: {enabled: false}},
      scales: {
        x: {
          type: 'linear', position: 'top', min: xMin, max: xMax,
          afterBuildTicks: s => { s.ticks = xTicks.map(v => ({value: v})); },
          afterFit: s => { s.height = 45; s.paddingLeft = 0; s.paddingRight = 0; },
          grid: {display: false, drawTicks: false},
          border: {display: false},
          ticks: {padding: -1, color: '#231f20', font: {family: FONT, size: 23},
                  maxRotation: 0, autoSkip: false, callback: v => String(v)}
        },
        y: {
          type: 'linear', position: 'left', min: 0, max: 100, reverse: true,
          afterBuildTicks: s => { s.ticks = depthTicks.map(v => ({value: v})); },
          afterFit: s => { s.width = 90; s.paddingTop = 0; s.paddingBottom = 0; },
          grid: {display: false, drawTicks: false},
          border: {display: false},
          ticks: {display: yLabelPad > 0, padding: yLabelPad, color: '#231f20',
                  font: {family: FONT, size: 23}, autoSkip: false, callback: v => String(v)}
        }
      }
    },
    plugins: [frameTicks]
  });
}

makePanel('p1', 90, 335, [trace(holeCTrace, BLUE), dots(holeC, BLUE)], 0, 3545, msTicks, 7);
makePanel('p2', 513, 334, [trace(holeBTrace, RED), dots(holeB, RED)], 0, 3545, msTicks, 0);
makePanel('p3', 935, 335, [
  trace(holeCTrace, RED), dots(holeC, RED),
  trace(holeBCorrTrace, BLUE), dots(holeBCorr, BLUE)
], 0, 3545, msTicks, 0);

const shiftPts = shiftDepth.map((d, i) => (d === null ? null : [d, shiftMeters[i]]));
const zeroPts = zeroShiftDepth.map((d, i) => [d, zeroShift[i]]);
makePanel('p4', 1384, 335, [
  {data: toXY(zeroPts), showLine: true, borderWidth: 2, borderColor: '#333', pointRadius: 0},
  {data: toXY(shiftPts), showLine: true, borderWidth: 3, borderColor: '#111', pointRadius: 0,
   spanGaps: false, borderJoinStyle: 'round'}
], -5, 30, shiftTicks, 10);
</script>
</body>
</html>
